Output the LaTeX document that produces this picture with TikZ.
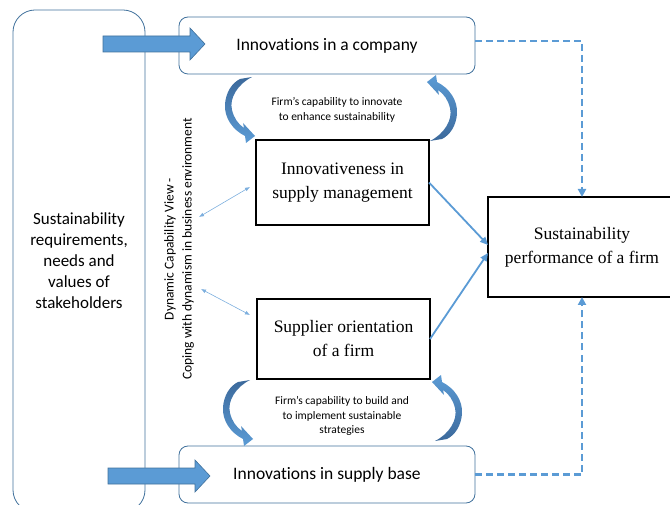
\documentclass[tikz,border=0pt]{standalone}
\usepackage{fontspec}
\setmainfont{Liberation Serif}
\newfontfamily\calibri[Ligatures=NoCommon]{Carlito}
\usetikzlibrary{positioning, calc, arrows.meta}

\definecolor{officeblue}{RGB}{91,155,213}
\definecolor{edgeblue}{RGB}{65,113,156}
\definecolor{darkblue}{RGB}{60,105,155}
\definecolor{paleblue}{RGB}{125,175,222}

\tikzset{
  roundbox/.style={draw=edgeblue, line width=0.8pt, rounded corners=9pt, inner sep=0pt, outer sep=0pt,
    align=center, font=\calibri\fontsize{17.5}{21}\selectfont},
  plainbox/.style={draw=black, line width=1.2pt, inner sep=0pt, outer sep=0pt,
    align=center, font=\fontsize{17.5}{24}\selectfont},
  note/.style={align=center, font=\calibri\fontsize{11.5}{14.5}\selectfont},
  fatarrow/.style={draw=edgeblue, fill=officeblue, line width=0.6pt, line join=miter},
  dashlink/.style={officeblue, line width=2.5pt, dash pattern=on 7pt off 4pt,
    -{Triangle[length=8pt,width=8pt]}},
  link/.style={officeblue, line width=1.8pt, -{Triangle[length=8pt,width=7pt]}},
  thinlink/.style={paleblue, line width=0.6pt,
    {Latex[length=5pt,width=4pt]}-{Latex[length=5pt,width=4pt]}},
  % crescent shaped feedback arrow, origin at the inner end of the tail
  pics/bend arrow/.style={code={
    \shade[pic actions] (0,0) .. controls (-14,7) and (-23,21) .. (-20,33)
      .. controls (-18,41) and (-14,47) .. (-8,51) -- (-9,46) -- (3,59) -- (-6,66) -- (-7,59)
      .. controls (-19,53) and (-28,41) .. (-27,27)
      .. controls (-26,15) and (-20,6) .. (-12,2) -- cycle;
  }},
}

\begin{document}
\begin{tikzpicture}[x=1pt, y=-1pt]

    \useasboundingbox (0,0) rectangle (670,505);
    \clip (0,0) rectangle (670,505);

    % --- Stakeholders (left column) ---
    \node[roundbox, rounded corners=22pt, minimum width=132pt, minimum height=502pt,
      font=\calibri\fontsize{17}{21}\selectfont] (stakeholders) at (79,261)
      {Sustainability\\requirements,\\needs and\\values of\\stakeholders};

    % --- Innovation boxes ---
    \node[roundbox, minimum width=296pt, minimum height=57pt] (company) at (327,45.5)
      {Innovations in a company};
    \node[roundbox, minimum width=296pt, minimum height=57pt] (supplybase) at (327,474.5)
      {Innovations in supply base};

    % --- Inner constructs ---
    \node[plainbox, minimum width=173pt, minimum height=85pt] (innov) at (342.5,182.5)
      {Innovativeness in\\supply management};
    \node[plainbox, minimum width=173pt, minimum height=80pt] (supplier) at (343.5,339)
      {Supplier orientation\\of a firm};

    % --- Outcome ---
    \node[plainbox, minimum width=188pt, minimum height=100pt] (perf) at (582,247)
      {Sustainability\\performance of a firm};

    % --- Labels ---
    \node[rotate=90, align=center, font=\calibri\fontsize{13.5}{18}\selectfont] (dcv) at (179,249)
      {Dynamic Capability View -\\Coping with dynamism in business environment};
    \node[note] (capinnovate) at (337,110)
      {Firm’s capability to innovate\\to enhance sustainability};
    \node[note] (capbuild) at (342,416)
      {Firm’s capability to build and\\to implement sustainable\\strategies};

    % --- Block arrows from stakeholders ---
    \draw[fatarrow] (103,36) -- (190,36) -- (190,28) -- (205,44) -- (190,60) -- (190,52) -- (103,52) -- cycle;
    \draw[fatarrow] (108,468) -- (195,468) -- (195,460) -- (210,476) -- (195,492) -- (195,484) -- (108,484) -- cycle;

    % --- Feedback arrows ---
    \pic[top color=darkblue, bottom color=officeblue] at (252,77) {bend arrow};
    \pic[top color=darkblue, bottom color=officeblue] at (250,380) {bend arrow};
    \pic[rotate=180, top color=officeblue, bottom color=darkblue] at (430,141) {bend arrow};
    \pic[rotate=180, top color=officeblue, bottom color=darkblue] at (435,441) {bend arrow};

    % --- Dynamic capability links ---
    \coordinate (dcvtop) at (199,217);
    \coordinate (dcvbot) at (201,289);
    \draw[thinlink] (dcvtop) -- ([xshift=-6pt,yshift=-4.5pt]innov.west);
    \draw[thinlink] (dcvbot) -- ([xshift=-7pt,yshift=-16pt]supplier.north west);

    % --- Effects on performance ---
    \draw[link] (innov.east) -- ([yshift=2pt]perf.west);
    \draw[link] (supplier.east) -- ([yshift=-6pt]perf.west);
    \draw[dashlink] ([yshift=4.5pt]company.east) -| (perf.north);
    \draw[dashlink] (supplybase.east) -| (perf.south);

\end{tikzpicture}
\end{document}
